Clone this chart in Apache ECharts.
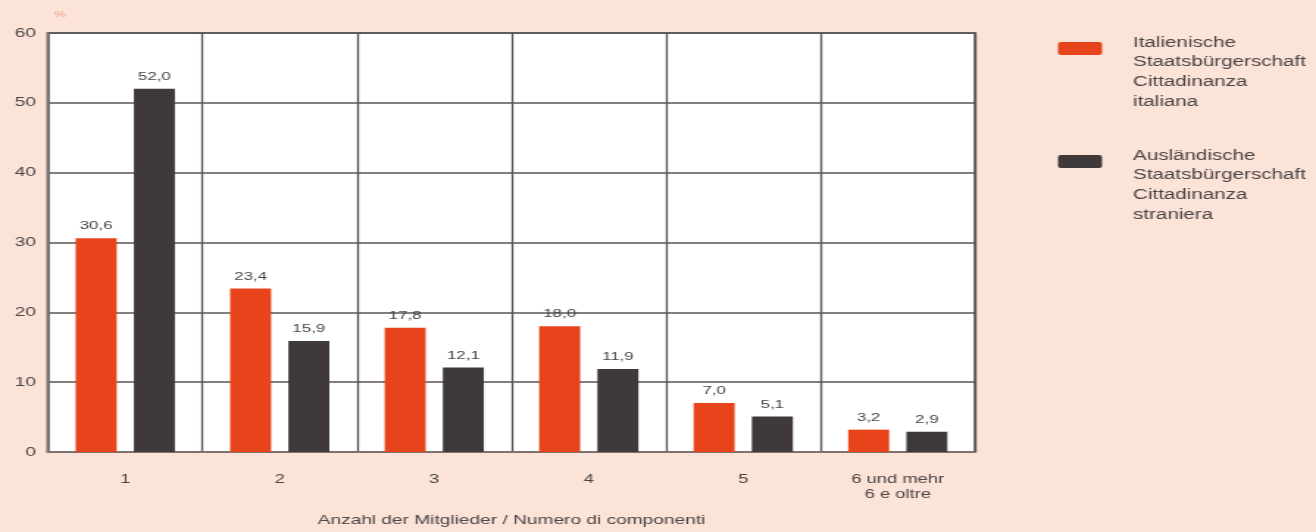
<!DOCTYPE html>
<html>
<head>
<meta charset="utf-8">
<script src="https://cdn.jsdelivr.net/npm/echarts@6/dist/echarts.min.js"></script>
<style>
  html, body { margin: 0; padding: 0; background: #fce3d8; overflow: hidden; }
  #wrap { width: 1316px; height: 532px; overflow: hidden; }
  /* the chart is drawn narrow and widened, which gives the stretched lettering */
  #chart { width: 895px; height: 532px; transform: scaleX(1.4704); transform-origin: 0 0; }
</style>
</head>
<body>
<div id="wrap"><div id="chart"></div></div>
<script>
// Household size (number of members) by citizenship, in percent
const categories = ['1', '2', '3', '4', '5', '6 und mehr\n6 e oltre'];
const italianValues = [30.6, 23.4, 17.8, 18.0, 7.0, 3.2];
const foreignValues = [52.0, 15.9, 12.1, 11.9, 5.1, 2.9];
const yTicks = { min: 0, max: 60, interval: 10 };
const seriesNames = [
  'Italienische\nStaatsbürgerschaft\nCittadinanza\nitaliana',
  'Ausländische\nStaatsbürgerschaft\nCittadinanza\nstraniera'
];
const colors = ['#e8441b', '#3f3a39'];

const SX = 1.4704;              // horizontal stretch applied by CSS
const px = v => v / SX;         // screen x distance -> chart x distance

const fmt = v => v.toFixed(1).replace('.', ',');
const font = 'Liberation Sans, Arial, sans-serif';
const textColor = '#4a4444';

// Legend: swatch beside the first line of a four-line caption;
// the group's top is the caption's top, the swatch sits 9px lower
function legendEntry(name, color, top) {
  return {
    type: 'group',
    left: px(1058),
    top: top,
    children: [
      { type: 'rect', shape: { x: 0, y: 9, width: px(44), height: 13, r: 2 }, style: { fill: color } },
      {
        type: 'text', x: px(75), y: 0,
        style: { text: name, fill: textColor, fontSize: 14, fontFamily: font, lineHeight: 19.7, verticalAlign: 'top' }
      }
    ]
  };
}

const chart = echarts.init(document.getElementById('chart'));
chart.setOption({
  backgroundColor: '#fce3d8',
  animation: false,
  textStyle: { fontFamily: font },
  graphic: [
    legendEntry(seriesNames[0], colors[0], 33),
    legendEntry(seriesNames[1], colors[1], 146)
  ],
  grid: {
    left: px(48), top: 33, width: px(927), height: 419,
    show: true, backgroundColor: '#ffffff',
    borderColor: '#7d7272', borderWidth: 2
  },
  xAxis: {
    type: 'category',
    data: categories,
    axisTick: { show: false },
    axisLine: { lineStyle: { color: '#7d7272', width: 2 } },
    axisLabel: { color: textColor, fontSize: 12.5, margin: 20, lineHeight: 15 },
    splitLine: { show: true, lineStyle: { color: '#5a5454', width: 1.3 } },
    name: 'Anzahl der Mitglieder / Numero di componenti',
    nameLocation: 'middle',
    nameGap: 62,
    nameTextStyle: { color: textColor, fontSize: 13 }
  },
  yAxis: {
    type: 'value',
    min: yTicks.min, max: yTicks.max, interval: yTicks.interval,
    axisLine: { show: true, lineStyle: { color: '#7d7272', width: 1.5 } },
    axisTick: { show: false },
    axisLabel: { color: textColor, fontSize: 13, margin: px(12) },
    splitLine: { lineStyle: { color: '#5a5454', width: 1.5 } },
    name: '%',
    nameLocation: 'end',
    nameGap: 14,
    nameTextStyle: { color: '#f2a08a', fontSize: 9, align: 'left', padding: [0, 0, 0, px(6)] }
  },
  series: [
    {
      name: seriesNames[0], type: 'bar', data: italianValues,
      barWidth: px(41), barGap: '42%',
      itemStyle: { color: colors[0] },
      label: { show: true, position: 'top', distance: 6, color: textColor, fontSize: 11.5, formatter: p => fmt(p.value) }
    },
    {
      name: seriesNames[1], type: 'bar', data: foreignValues,
      barWidth: px(41),
      itemStyle: { color: colors[1] },
      label: { show: true, position: 'top', distance: 6, color: textColor, fontSize: 11.5, formatter: p => fmt(p.value) }
    }
  ]
});
</script>
</body>
</html>
